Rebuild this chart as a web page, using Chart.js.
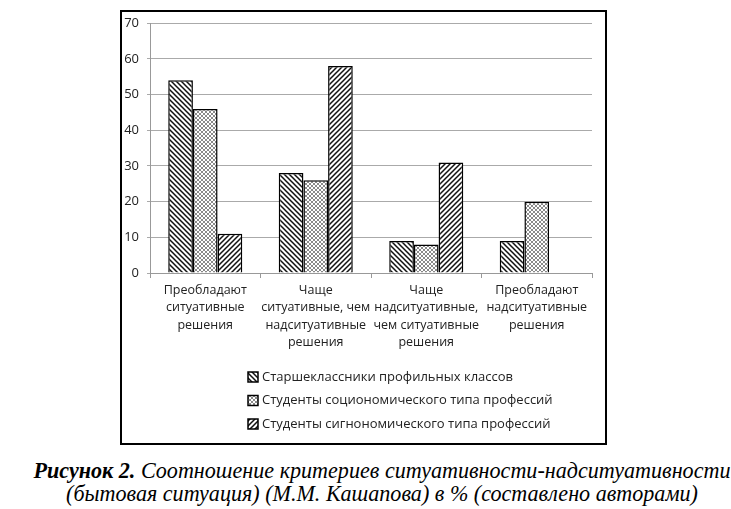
<!DOCTYPE html>
<html>
<head>
<meta charset="utf-8">
<script src="https://cdn.jsdelivr.net/npm/chart.js@4/dist/chart.umd.min.js"></script>
<style>
  html, body { margin: 0; padding: 0; background: #fff; overflow: hidden; }
  #frame {
    position: absolute; left: 120px; top: 10px;
    width: 487px; height: 435px;
    border: 2px solid #000; box-sizing: border-box;
  }
  #caption {
    position: absolute; left: 0; top: 459px; width: 764px;
    text-align: center;
    font-family: "Liberation Serif", "Times New Roman", serif;
    font-style: italic; font-size: 22.1px; line-height: 23px; color: #000;
    white-space: nowrap;
  }
</style>
</head>
<body>
<div id="frame"><canvas id="chart" width="483" height="431"></canvas></div>
<div id="caption"><b>Рисунок 2.</b> Соотношение критериев ситуативности-надситуативности<br>(бытовая ситуация) (М.М. Кашапова) в % (составлено авторами)</div>
<script>
const categories = [
  ['Преобладают', 'ситуативные', 'решения'],
  ['Чаще', 'ситуативные, чем', 'надситуативные', 'решения'],
  ['Чаще', 'надситуативные,', 'чем ситуативные', 'решения'],
  ['Преобладают', 'надситуативные', 'решения']
];
const seriesNames = [
  'Старшеклассники профильных классов',
  'Студенты социономического типа профессий',
  'Студенты сигнономического типа профессий'
];
const highSchool = [54, 28, 9, 9];
const socionomic = [46, 26, 8, 20];
const signonomic = [11, 58, 31, null];

const font = '"Open Sans", sans-serif';

function hatch(kind) {
  const c = document.createElement('canvas');
  const s = kind === 'cross' ? 4 : 5;
  c.width = s; c.height = s;
  const g = c.getContext('2d');
  g.fillStyle = '#fff';
  g.fillRect(0, 0, s, s);
  if (kind === 'cross') {
    g.strokeStyle = '#8a8a8a';
    g.lineWidth = 1;
    g.beginPath();
    g.moveTo(0, 0); g.lineTo(s, s);
    g.moveTo(s, 0); g.lineTo(0, s);
    g.stroke();
  } else {
    g.strokeStyle = '#111';
    g.lineWidth = 1.5;
    g.beginPath();
    if (kind === 'back') {
      g.moveTo(-1, -1); g.lineTo(s + 1, s + 1);
      g.moveTo(-1, s - 1); g.lineTo(1, s + 1);
      g.moveTo(s - 1, -1); g.lineTo(s + 1, 1);
    } else {
      g.moveTo(-1, s + 1); g.lineTo(s + 1, -1);
      g.moveTo(-1, 1); g.lineTo(1, -1);
      g.moveTo(s - 1, s + 1); g.lineTo(s + 1, s - 1);
    }
    g.stroke();
  }
  return g.createPattern(c, 'repeat');
}

const ctx = document.getElementById('chart').getContext('2d');
const fills = [hatch('back'), hatch('cross'), hatch('fwd')];

// legend drawn under the axis labels, left aligned like the original
const sideLegend = {
  id: 'sideLegend',
  afterDraw(chart) {
    const g = chart.ctx;
    const x = 126, top = 365, gap = 23.5;
    g.save();
    g.font = '13px ' + font;
    g.textBaseline = 'middle';
    chart.data.datasets.forEach((ds, i) => {
      const y = top + i * gap;
      g.fillStyle = ds.backgroundColor;
      g.fillRect(x, y - 5, 10, 10);
      g.strokeStyle = '#000';
      g.lineWidth = 1.5;
      g.strokeRect(x, y - 5, 10, 10);
      g.fillStyle = '#222';
      g.fillText(ds.label, x + 14, y);
    });
    g.restore();
  }
};

const data = {
  labels: categories,
  datasets: [
    { label: seriesNames[0], data: highSchool, backgroundColor: fills[0] },
    { label: seriesNames[1], data: socionomic, backgroundColor: fills[1] },
    { label: seriesNames[2], data: signonomic, backgroundColor: fills[2] }
  ].map(d => Object.assign(d, {
    borderColor: '#000',
    borderWidth: 1.5,
    barPercentage: 1,
    categoryPercentage: 0.67
  }))
};

const config = {
  type: 'bar',
  data: data,
  options: {
    responsive: false,
    animation: false,
    layout: { autoPadding: false, padding: { left: 0, top: 9, right: 13, bottom: 90 } },
    plugins: {
      legend: { display: false },
      tooltip: { enabled: false }
    },
    scales: {
      x: {
        afterFit: axis => { axis.height = 80; },
        grid: { drawOnChartArea: false, drawTicks: true, tickLength: 5, color: '#999' },
        border: { color: '#999' },
        ticks: { color: '#222', font: { family: font, size: 12.5, lineHeight: 1.38 }, padding: 4, maxRotation: 0, autoSkip: false }
      },
      y: {
        min: 0, max: 70,
        afterFit: axis => { axis.width = 28; },
        ticks: { stepSize: 10, color: '#222', font: { family: font, size: 13, lineHeight: 0.5 }, padding: 8 },
        grid: { color: '#aaa', tickLength: 3 },
        border: { color: '#999' }
      }
    }
  },
  plugins: [sideLegend]
};

const chart = new Chart(ctx, config);
</script>
</body>
</html>
